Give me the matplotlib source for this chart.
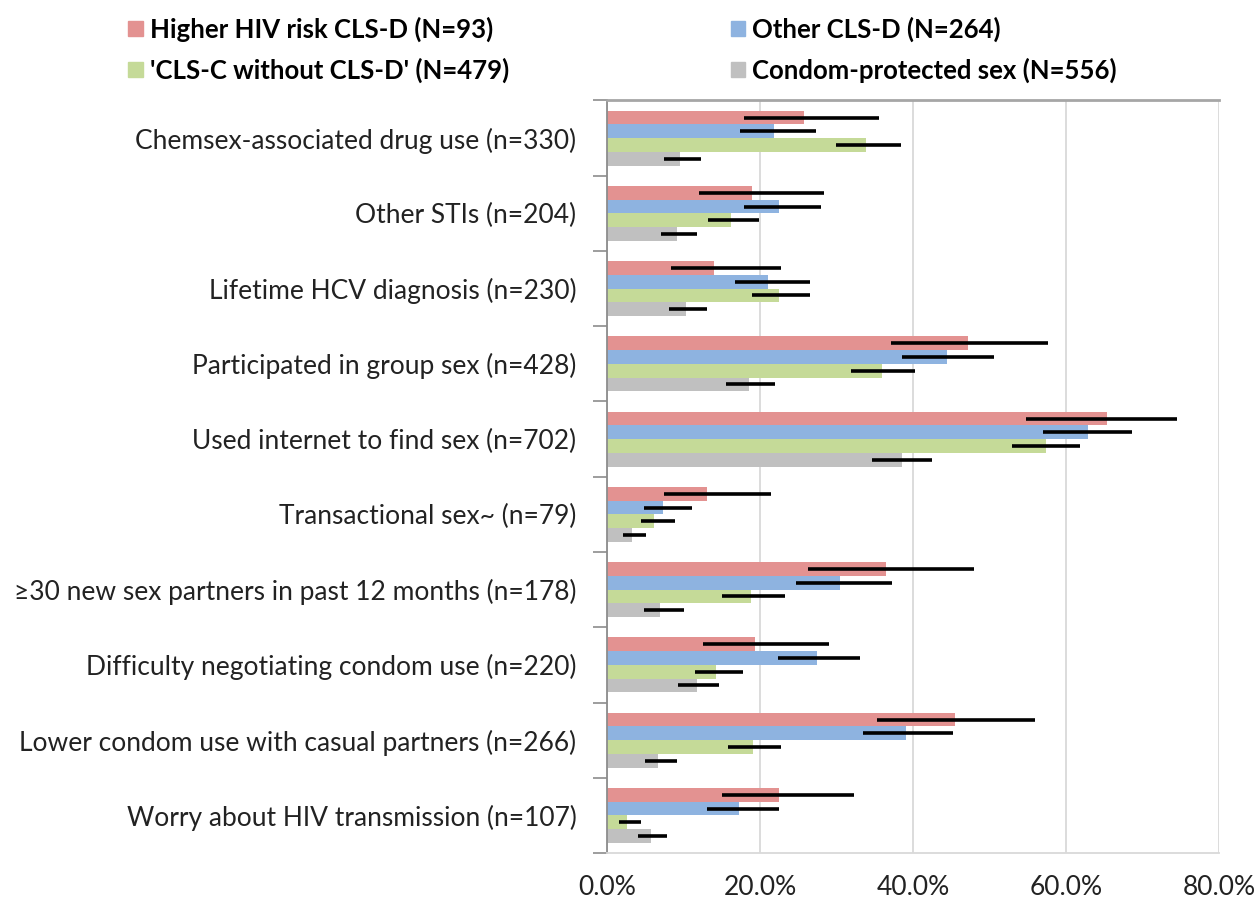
import matplotlib
matplotlib.use("Agg")
import matplotlib.pyplot as plt
import numpy as np
from matplotlib.patches import Patch

plt.rcParams['font.family'] = ['Lato', 'DejaVu Sans']

categories = [
    "Chemsex-associated drug use (n=330)",
    "Other STIs (n=204)",
    "Lifetime HCV diagnosis (n=230)",
    "Participated in group sex (n=428)",
    "Used internet to find sex (n=702)",
    "Transactional sex~ (n=79)",
    "\u226530 new sex partners in past 12 months (n=178)",
    "Difficulty negotiating condom use (n=220)",
    "Lower condom use with casual partners (n=266)",
    "Worry about HIV transmission (n=107)",
]

series_names = [
    "Higher HIV risk CLS-D (N=93)",
    "Other CLS-D (N=264)",
    "'CLS-C without CLS-D' (N=479)",
    "Condom-protected sex (N=556)",
]

# percentages, one list per series (same order as categories)
higher_risk = [25.7, 18.9, 14.0, 47.2, 65.3, 13.0, 36.5, 19.3, 45.5, 22.5]
higher_lo   = [17.9, 12.0, 8.3, 37.1, 54.8, 7.5, 26.3, 12.5, 35.3, 15.0]
higher_hi   = [35.5, 28.3, 22.8, 57.6, 74.5, 21.4, 48.0, 29.0, 56.0, 32.3]

other_d     = [21.8, 22.5, 21.1, 44.5, 62.9, 7.3, 30.5, 27.5, 39.1, 17.3]
other_lo    = [17.4, 17.9, 16.7, 38.6, 57.0, 4.8, 24.7, 22.3, 33.4, 13.1]
other_hi    = [27.3, 28.0, 26.5, 50.6, 68.6, 11.1, 37.2, 33.1, 45.2, 22.5]

clsc        = [33.9, 16.2, 22.5, 35.9, 57.4, 6.2, 18.8, 14.3, 19.1, 2.6]
clsc_lo     = [29.9, 13.2, 19.0, 31.9, 53.0, 4.4, 15.0, 11.5, 15.8, 1.5]
clsc_hi     = [38.4, 19.8, 26.5, 40.3, 61.8, 8.9, 23.3, 17.8, 22.8, 4.4]

protected   = [9.6, 9.1, 10.3, 18.6, 38.5, 3.2, 6.9, 11.8, 6.6, 5.7]
prot_lo     = [7.5, 7.0, 8.1, 15.5, 34.6, 2.1, 4.8, 9.3, 5.0, 4.1]
prot_hi     = [12.3, 11.8, 13.0, 21.9, 42.5, 5.1, 10.1, 14.6, 9.1, 7.9]

xticks = [0, 20, 40, 60, 80]
colors = ['#E39291', '#8EB3E0', '#C5DA98', '#C0C0C0']

values = [higher_risk, other_d, clsc, protected]
lows = [higher_lo, other_lo, clsc_lo, prot_lo]
highs = [higher_hi, other_hi, clsc_hi, prot_hi]

fig = plt.figure(figsize=(12.54, 8.98), dpi=100)
ax = fig.add_axes([0.4841, 0.0501, 0.4880, 0.8380])

y = np.arange(len(categories))
h = 0.182
handles = []
for i in range(4):
    v = np.array(values[i])
    lo = np.array(lows[i])
    hi = np.array(highs[i])
    pos = y + (i - 1.5) * h
    ax.barh(pos, v, height=h, color=colors[i], zorder=2)
    ax.errorbar(v, pos, xerr=[v - lo, hi - v], fmt='none', ecolor='black',
                elinewidth=2.6, capsize=0, zorder=3)
    handles.append(Patch(color=colors[i], label=series_names[i]))

ax.set_xlim(0, 80)
ax.set_ylim(len(categories) - 0.5, -0.5)

ax.set_xticks(xticks)
ax.set_xticklabels(["%.1f%%" % t for t in xticks], fontsize=19, color='#222222')
ax.tick_params(axis='x', length=0, pad=16)
ax.grid(axis='x', color='#D9D9D9', linewidth=1.3, zorder=0)
ax.set_axisbelow(True)

ax.set_yticks(y)
ax.set_yticklabels(categories, fontsize=19, color='#222222')
ax.tick_params(axis='y', which='major', length=0, pad=22)
ax.set_yticks(np.arange(-0.5, len(categories)), minor=True)
ax.tick_params(axis='y', which='minor', length=10, width=1.2, color='#8C8C8C')

ax.spines['left'].set_color('#8C8C8C')
ax.spines['left'].set_linewidth(1.3)
ax.spines['top'].set_color('#A6A6A6')
ax.spines['top'].set_linewidth(2)
ax.spines['bottom'].set_color('#D9D9D9')
ax.spines['bottom'].set_linewidth(1.3)
ax.spines['right'].set_visible(False)

order = [handles[0], handles[2], handles[1], handles[3]]
leg = fig.legend(handles=order, ncol=2, loc='upper left',
                 bbox_to_anchor=(0.084, 1.0075), frameon=False,
                 prop={'weight': 'bold', 'size': 18.5},
                 handlelength=0.55, handleheight=0.55, handletextpad=0.3,
                 columnspacing=8.6, labelspacing=0.62)

fig.savefig("out.png", dpi=100)
